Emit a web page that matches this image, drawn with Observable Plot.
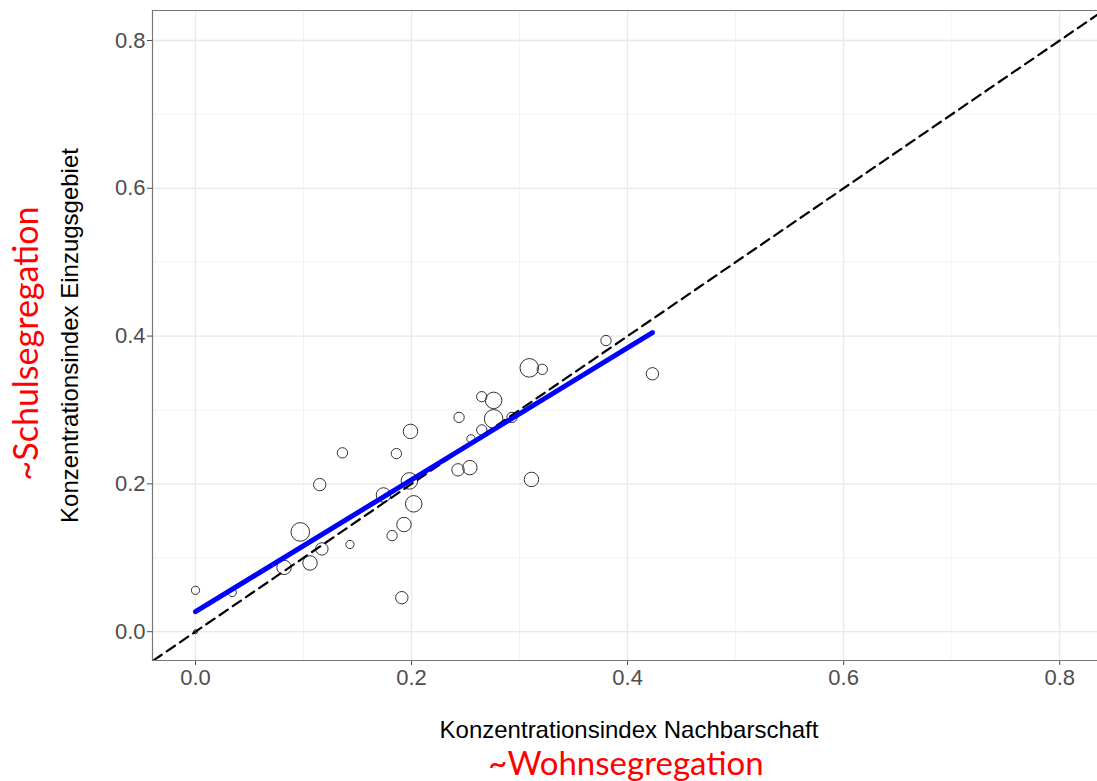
<!DOCTYPE html>
<html><head><meta charset="utf-8">
<script src="https://cdn.jsdelivr.net/npm/d3@7"></script>
<script src="https://cdn.jsdelivr.net/npm/@observablehq/plot@0.6"></script>
<style>html,body{margin:0;padding:0;background:#fff;overflow:hidden}</style>
</head><body><div id="chart"></div>
<script>
// Konzentrationsindex Nachbarschaft (x) and Einzugsgebiet (y) per school, with bubble weight
const nachbarschaft = [0.000, 0.000, 0.034, 0.097, 0.106, 0.082, 0.117, 0.115, 0.136, 0.143, 0.174, 0.182, 0.193, 0.191, 0.202, 0.198, 0.186, 0.199, 0.244, 0.243, 0.254, 0.255, 0.265, 0.265, 0.276, 0.276, 0.293, 0.309, 0.321, 0.311, 0.380, 0.423];
const einzugsgebiet = [0.056, 0.000, 0.053, 0.135, 0.093, 0.087, 0.112, 0.199, 0.242, 0.118, 0.185, 0.130, 0.145, 0.046, 0.173, 0.204, 0.241, 0.271, 0.290, 0.219, 0.222, 0.261, 0.273, 0.318, 0.313, 0.288, 0.290, 0.357, 0.355, 0.206, 0.394, 0.349];
const gewicht = [16, 4, 16, 81, 49, 49, 36, 36, 25, 16, 49, 25, 49, 36, 64, 64, 25, 49, 25, 36, 49, 16, 25, 25, 64, 81, 25, 81, 25, 49, 25, 36];
// fitted regression line
const fitIntercept = 0.027;
const fitSlope = 0.893;
const majorTicks = [0, 0.2, 0.4, 0.6, 0.8];
const minorTicks = [0.1, 0.3, 0.5, 0.7];
const xTitle = "Konzentrationsindex Nachbarschaft";
const xSubtitle = "~Wohnsegregation";
const yTitle = "Konzentrationsindex Einzugsgebiet";
const ySubtitle = "~Schulsegregation";

const xDomain = [-0.0398, 0.835];
const yDomain = [-0.039, 0.8406];

const points = nachbarschaft.map((x, i) => ({x, y: einzugsgebiet[i], n: gewicht[i]}));
const xr = d3.extent(nachbarschaft);
const fit = xr.map(x => ({x, y: fitIntercept + fitSlope * x}));
const diag = [-0.1, 1].map(v => ({x: v, y: v}));

const chart = Plot.plot({
  width: 1097, height: 781,
  marginLeft: 152, marginRight: 0, marginTop: 10, marginBottom: 121,
  x: {domain: xDomain},
  y: {domain: yDomain},
  r: {domain: [0, 81], range: [0, 9.3]},
  style: {fontFamily: "'Liberation Sans', Arial, sans-serif", background: "#fff", color: "#4d4d4d"},
  marks: [
    Plot.gridX(minorTicks, {stroke: "#f3f3f3", strokeOpacity: 1, strokeWidth: 1}),
    Plot.gridY(minorTicks, {stroke: "#f3f3f3", strokeOpacity: 1, strokeWidth: 1}),
    Plot.gridX(majorTicks, {stroke: "#e8e8e8", strokeOpacity: 1, strokeWidth: 1.3}),
    Plot.gridY(majorTicks, {stroke: "#e8e8e8", strokeOpacity: 1, strokeWidth: 1.3}),
    Plot.axisX(majorTicks, {tickFormat: d3.format(".1f"), tickSize: 5, tickPadding: 4, fontSize: 22, label: null}),
    Plot.axisY(majorTicks, {tickFormat: d3.format(".1f"), tickSize: 5, tickPadding: 2, fontSize: 22, label: null}),
    Plot.dot(points, {x: "x", y: "y", r: "n", stroke: "#333", strokeWidth: 1, fill: "none"}),
    Plot.line(diag, {x: "x", y: "y", stroke: "#000", strokeWidth: 2.2, strokeDasharray: "10,6", clip: true}),
    Plot.line(fit, {x: "x", y: "y", stroke: "#0000ff", strokeWidth: 5}),
    Plot.ruleY([yDomain[0], yDomain[1]], {stroke: "#777", strokeWidth: 1.2}),
    Plot.ruleX([xDomain[0]], {stroke: "#777", strokeWidth: 1.2}),
    Plot.text([xTitle], {frameAnchor: "bottom", textAnchor: "middle", lineAnchor: "middle", dx: 4, dy: 70, fontSize: 24, fill: "#000"}),
    Plot.text([xSubtitle], {frameAnchor: "bottom", textAnchor: "middle", lineAnchor: "middle", dx: 1, dy: 104, fontSize: 33, fill: "#ff0000", fontFamily: "Lato, 'Open Sans', sans-serif"}),
    Plot.text([yTitle], {frameAnchor: "left", textAnchor: "middle", lineAnchor: "middle", dx: -82, dy: 0, rotate: -90, fontSize: 24, fill: "#000"}),
    Plot.text([ySubtitle], {frameAnchor: "left", textAnchor: "middle", lineAnchor: "middle", dx: -125, dy: 8, rotate: -90, fontSize: 34, fill: "#ff0000", fontFamily: "Lato, 'Open Sans', sans-serif"})
  ]
});
document.getElementById("chart").appendChild(chart);
</script>
</body></html>
